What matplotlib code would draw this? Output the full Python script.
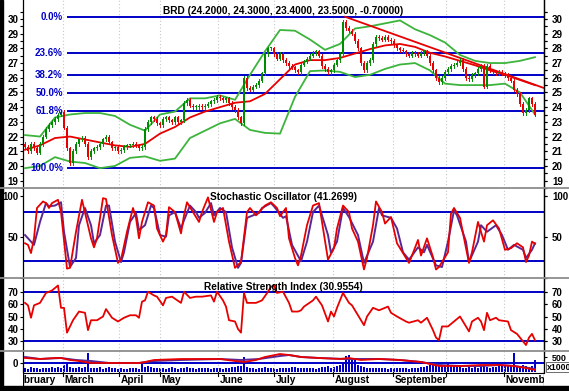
import matplotlib
matplotlib.use('Agg')
import matplotlib.pyplot as plt
import numpy as np
from matplotlib.lines import Line2D
from matplotlib.patches import Rectangle

plt.rcParams['font.family'] = ['Liberation Sans', 'DejaVu Sans']
plt.rcParams['font.weight'] = 'bold'

# ---------------- data (trading-day index 0..170) ----------------
title = "BRD (24.2000, 24.3000, 23.4000, 23.5000, -0.70000)"
first_open = 21.5
close = [21.3, 21.0, 21.5, 21.2, 20.9, 21.5, 22.0, 22.5, 22.8, 23.0,
         23.2, 23.5, 23.7, 22.6, 21.2, 20.2, 21.0, 21.5, 21.8, 21.9,
         21.5, 20.6, 21.0, 21.2, 21.3, 21.5, 21.8, 22.0, 21.6, 21.2,
         21.3, 21.0, 21.1, 21.3, 21.4, 21.4, 21.5, 21.4, 21.2, 21.3,
         22.5, 23.0, 23.3, 23.2, 22.9, 22.8, 23.2, 23.3, 23.1, 23.0,
         23.3, 23.0, 23.1, 24.3, 24.5, 24.1, 24.0, 24.0, 24.1, 24.0,
         24.1, 24.2, 24.4, 24.5, 24.7, 24.6, 24.5, 24.6, 24.3, 24.0,
         23.8, 23.3, 22.9, 26.0, 25.3, 25.2, 25.4, 25.5, 25.8, 26.3,
         27.6, 28.0, 28.0, 27.6, 27.3, 27.6, 27.2, 27.0, 26.8, 26.7,
         26.5, 26.4, 26.9, 27.1, 27.3, 27.5, 27.7, 27.8, 27.5, 26.8,
         26.6, 26.4, 26.5, 26.9, 27.2, 27.6, 29.8, 29.4, 29.2, 29.0,
         28.5, 28.0, 27.0, 26.5, 27.0, 27.2, 28.3, 28.8, 28.7, 28.6,
         28.8, 28.6, 28.5, 28.2, 28.0, 27.9, 27.8, 27.6, 27.5, 27.7,
         27.6, 27.5, 27.7, 27.8, 27.5, 27.0, 26.5, 26.0, 25.7, 26.0,
         26.4, 26.6, 26.8, 26.9, 27.0, 27.2, 26.6, 26.0, 25.9, 26.2,
         26.3, 26.6, 26.8, 25.4, 26.8, 26.5, 26.4, 26.3, 26.4, 26.3,
         26.2, 26.0, 25.8, 25.2, 24.9, 24.2, 23.6, 23.8, 24.6, 24.2,
         23.5]

# Bollinger bands / moving average, read every 5 days
band_days = [0, 5, 10, 15, 20, 25, 30, 35, 40, 45, 50, 55, 60, 65, 70, 75, 80, 85,
             90, 95, 100, 105, 110, 115, 120, 125, 130, 135, 140, 145, 150, 155,
             160, 165, 170]
band_upper = [22.1, 22.0, 23.3, 23.5, 23.6, 23.6, 23.4, 22.8, 22.4, 23.5, 23.7, 24.6,
              24.6, 24.8, 24.5, 26.2, 27.8, 29.25, 29.2, 28.6, 27.9, 28.3, 29.35,
              29.5, 29.7, 29.9, 29.3, 28.9, 28.4, 27.55, 27.15, 27.0, 27.0, 27.15, 27.4]
band_lower = [19.85, 20.0, 20.6, 20.3, 20.2, 19.85, 20.0, 20.55, 20.65, 20.35, 20.5,
              21.9, 22.4, 22.9, 23.2, 22.45, 22.25, 22.2, 24.7, 26.45, 26.5, 26.4,
              26.05, 26.2, 26.6, 26.9, 27.0, 26.5, 25.6, 25.5, 25.5, 25.5, 25.6, 25.0, 23.5]
band_mid = [21.1, 21.4, 21.9, 22.0, 21.8, 21.6, 21.4, 21.3, 21.5, 22.2, 22.65, 23.3,
            23.7, 24.0, 24.3, 24.4, 24.9, 25.9, 26.9, 27.2, 27.2, 27.35, 27.65, 27.95,
            28.2, 28.3, 28.1, 27.7, 27.45, 27.15, 26.85, 26.5, 26.2, 25.85, 25.5]

trend_days = [106.7, 173.0]
trend_vals = [30.15, 25.3]

fib_high = 30.12
fib_low = 19.84
fib_start_day = 14.3
fib_ratios = [0.0, 0.236, 0.382, 0.5, 0.618, 1.0]
fib_labels = ["0.0%", "23.6%", "38.2%", "50.0%", "61.8%", "100.0%"]

stoch_title = "Stochastic Oscillator (41.2699)"
k_days = [0, 1, 2, 3, 4, 6, 7, 8, 9, 11, 12, 14, 15, 17, 19, 22, 23, 24, 26, 27, 29, 31,
          32, 34, 36, 37, 38, 39, 41, 43, 44, 46, 47, 48, 50, 52, 53, 54, 56, 58, 59, 61,
          63, 64, 66, 68, 70, 72, 74, 75, 77, 78, 80, 82, 84, 85, 87, 88, 90, 91, 92, 94,
          96, 98, 99, 101, 103, 104, 106, 108, 109, 111, 113, 114, 116, 117, 119, 120,
          122, 124, 126, 128, 129, 131, 132, 134, 136, 137, 138, 141, 142, 143, 145,
          147, 148, 149, 151, 153, 154, 156, 158, 160, 162, 164, 166, 167, 168, 169, 170]
k_vals = [42, 40, 30, 48, 85, 93, 91, 85, 91, 95, 80, 11, 12, 56, 95, 48, 37, 48, 97, 96,
          52, 18, 22, 56, 85, 73, 48, 68, 92, 88, 60, 44, 52, 86, 80, 54, 76, 92, 80, 68,
          80, 98, 68, 80, 85, 44, 12, 19, 80, 85, 76, 80, 88, 92, 85, 75, 85, 48, 24, 15,
          27, 64, 88, 91, 68, 22, 36, 60, 88, 80, 60, 44, 10, 24, 64, 93, 80, 66, 74, 42,
          30, 18, 27, 46, 27, 48, 25, 10, 13, 31, 78, 85, 73, 36, 18, 31, 68, 44, 64, 70,
          60, 34, 36, 42, 37, 19, 27, 44, 41.3]
d_days = [0, 2, 3, 5, 7, 8, 10, 12, 13, 15, 17, 18, 20, 22, 23, 25, 27, 28, 30, 32, 33,
          35, 37, 38, 40, 42, 43, 45, 47, 48, 50, 52, 53, 55, 57, 58, 60, 62, 63, 65, 67,
          69, 71, 72, 74, 76, 78, 79, 82, 83, 86, 87, 89, 92, 94, 96, 98, 101, 102, 104,
          106, 108, 111, 113, 116, 118, 119, 122, 124, 126, 128, 131, 133, 134, 137, 139,
          141, 143, 144, 147, 148, 151, 152, 154, 157, 159, 161, 163, 166, 167, 169, 170]
d_vals = [52, 44, 40, 68, 91, 87, 88, 92, 56, 13, 24, 64, 85, 64, 42, 52, 88, 88, 44, 19,
          31, 68, 79, 58, 64, 88, 85, 52, 50, 76, 80, 60, 70, 88, 80, 73, 79, 91, 76, 85,
          80, 37, 12, 18, 73, 76, 79, 85, 91, 87, 73, 75, 40, 20, 44, 80, 88, 52, 30, 44,
          85, 74, 52, 18, 44, 85, 76, 73, 60, 31, 22, 37, 31, 40, 15, 13, 44, 82, 76, 44,
          19, 44, 64, 56, 64, 52, 34, 40, 34, 24, 34, 42]

rsi_title = "Relative Strength Index (30.9554)"
rsi_days = [0, 1, 2, 3, 5, 7, 9, 11, 12, 13, 14, 16, 18, 20, 21, 22, 24, 26, 27, 29, 31,
            33, 35, 37, 38, 39, 40, 41, 43, 44, 46, 47, 49, 52, 53, 55, 57, 59, 62, 63,
            64, 66, 67, 68, 70, 71, 72, 73, 74, 77, 79, 81, 82, 83, 84, 86, 88, 89, 91,
            92, 93, 96, 97, 99, 101, 102, 103, 104, 105, 106, 108, 109, 111, 113, 114,
            116, 118, 121, 122, 124, 127, 128, 131, 132, 134, 136, 137, 138, 139, 141,
            143, 145, 147, 148, 149, 151, 152, 153, 154, 155, 157, 158, 161, 162, 164,
            165, 167, 168, 169, 170]
rsi_vals = [61, 59, 49, 59, 61, 69, 71, 75, 57, 57, 37, 47, 54, 53, 39, 47, 47, 50, 56,
            49, 46, 49, 51, 51, 49, 62, 63, 70, 67, 66, 59, 65, 66, 61, 70, 65, 66, 66,
            67, 62, 70, 63, 58, 47, 46, 40, 37, 69, 61, 61, 63, 70, 74, 75, 69, 70, 61,
            54, 54, 55, 58, 63, 66, 59, 46, 54, 50, 57, 63, 69, 61, 59, 51, 43, 50, 57,
            55, 58, 53, 50, 46, 45, 47, 45, 49, 39, 33, 31, 42, 42, 46, 50, 42, 38, 46,
            49, 46, 39, 53, 47, 49, 47, 46, 39, 36, 33, 27, 33, 36, 30.96]

volume = [150, 120, 180, 140, 160, 130, 170, 150, 140, 190, 160, 200, 170, 260, 350,
          180, 150, 140, 200, 160, 180, 730, 170, 150, 140, 180, 130, 150, 200, 160,
          140, 120, 150, 130, 110, 140, 160, 150, 130, 300, 190, 220, 180, 150, 170,
          140, 160, 130, 150, 200, 140, 130, 150, 170, 190, 160, 140, 130, 150, 140,
          160, 150, 130, 170, 140, 150, 130, 160, 140, 180, 200, 220, 250, 580, 180,
          160, 140, 130, 150, 170, 190, 160, 140, 150, 130, 160, 140, 150, 170, 200,
          190, 160, 150, 140, 160, 150, 140, 130, 160, 180, 200, 220, 170, 190, 220,
          260, 400, 600, 650, 550, 500, 260, 220, 180, 160, 150, 170, 150, 140, 160,
          150, 130, 140, 150, 170, 160, 150, 140, 130, 150, 160, 170, 180, 200, 220,
          260, 280, 300, 250, 230, 260, 385, 220, 200, 180, 190, 170, 160, 180, 170,
          190, 160, 200, 220, 180, 170, 200, 190, 220, 250, 240, 260, 280, 730, 220,
          240, 260, 230, 200, 250, 460]

osc_r_days = [0, 5, 10, 12, 15, 18, 22, 25, 32, 38, 40, 43, 52, 58, 65, 70, 73, 77, 80,
              85, 88, 92, 98, 105, 108, 112, 118, 125, 132, 138, 145, 152, 158, 163, 167, 170]
osc_r_vals = [5, 4, 5, 5, 3, 2, 0, 0, 0, 0, 1, 3, 4, 4, 4, 2, 1, 3, 6, 9, 8, 6, 5, 4, 5,
              3, 4, 3, 1, -3, -3, -2, -2, -3, -5, -7]
osc_p_days = [0, 5, 12, 17, 22, 28, 38, 43, 52, 65, 72, 78, 85, 88, 92, 98, 107, 112,
              118, 125, 132, 138, 145, 152, 158, 163, 168, 170]
osc_p_vals = [6, 4, 5, 3, 2, 0, 0, 2, 3, 4, 3, 4, 7, 8, 6, 5, 4, 4, 4, 3, 1, -2, -3, -3,
              -2, -3, -5, -6]

month_names = ["February", "March", "April", "May", "June", "July", "August",
               "September", "October", "November"]
month_starts = [-4.7, 12.7, 31.3, 45.0, 64.3, 83.0, 102.7, 122.7, 140.3, 159.7]
month_shown = [True, True, True, True, True, True, True, True, False, True]

# ---------------- styling ----------------
W, H = 569, 391
BLUE = '#0000c8'
RED = '#e60000'
GREEN_C = '#008c00'
GREEN_B = '#3cb43c'
PURPLE = '#5a2896'
GRAY = '#8c8c8c'
GRID = '#c8c8c8'
XL = (-0.667, 173.0)

fig = plt.figure(figsize=(W / 100, H / 100), dpi=100)
fig.patch.set_facecolor('white')


def rect(top, bottom):
    return [23 / W, 1 - bottom / H, 521 / W, (bottom - top) / H]


def style_axis(ax, ylim, ticks, labels, minor=None, pad_r=3.2):
    ax.set_xlim(*XL)
    ax.set_ylim(*ylim)
    ax.set_facecolor('none')
    for s in ['top', 'bottom']:
        ax.spines[s].set_visible(False)
    for s in ['left', 'right']:
        ax.spines[s].set_linewidth(0.9)
        ax.spines[s].set_color('black')
    ax.set_xticks([])
    ax.set_yticks(ticks)
    ax.set_yticklabels(labels)
    if minor is not None:
        ax.set_yticks(minor, minor=True)
    ax.tick_params(axis='y', which='both', left=True, right=True, labelleft=True,
                   labelright=False, direction='out', length=2.5, width=0.8,
                   labelsize=7, pad=0.8)
    sec = ax.secondary_yaxis('right')
    sec.set_yticks(ticks)
    sec.set_yticklabels(labels)
    if minor is not None:
        sec.set_yticks(minor, minor=True)
    sec.tick_params(axis='y', which='both', direction='out', length=2.5, width=0.8,
                    labelsize=7, pad=pad_r)
    sec.spines['right'].set_linewidth(0.9)
    for t in ax.get_yticklabels() + sec.get_yticklabels():
        t.set_fontweight('bold')
    for m in month_starts[1:]:
        ax.axvline(m, color=GRID, lw=0.8, ls=(0, (1, 2)), zorder=0)
    return sec


days = np.arange(len(close))
opens = [first_open] + close[:-1]

# ---------------- price panel ----------------
axp = fig.add_axes(rect(0, 188))
style_axis(axp, (18.5, 31.29), list(range(19, 31)), [str(v) for v in range(19, 31)],
           minor=list(np.arange(18.5, 31.0, 1.0)))

for r, lab in zip(fib_ratios, fib_labels):
    lv = fib_high - r * (fib_high - fib_low)
    axp.plot([fib_start_day, XL[1]], [lv, lv], color=BLUE, lw=1.4, zorder=2)
    axp.text(fib_start_day - 1.7, lv, lab, color=BLUE, fontsize=7, fontweight='bold',
             ha='right', va='center', zorder=5)

axp.plot(band_days, band_upper, color=GREEN_B, lw=1.3, zorder=3)
axp.plot(band_days, band_lower, color=GREEN_B, lw=1.3, zorder=3)
axp.plot(band_days, band_mid, color=RED, lw=1.3, zorder=3)
axp.plot(trend_days, trend_vals, color=RED, lw=1.3, zorder=3)

for d, o, c in zip(days, opens, close):
    col = GREEN_C if c >= o else RED
    lo, hi = min(o, c), max(o, c)
    axp.bar(d, max(hi - lo, 0.06), bottom=lo, width=0.75, color=col, linewidth=0, zorder=4)
    axp.plot([d, d], [lo - 0.12, hi + 0.12], color=col, lw=0.7, zorder=4)

axp.text(0.5, 1 - 11 / 188, title, transform=axp.transAxes, ha='center', va='center',
         fontsize=7.3, fontweight='bold', color='black', zorder=6)

# ---------------- stochastic panel ----------------
axs = fig.add_axes(rect(188, 278))
style_axis(axs, (-0.4, 109.4), [50, 100], ['50', '100'], minor=[0])
axs.axhline(80, color=BLUE, lw=1.4, zorder=2)
axs.axhline(20, color=BLUE, lw=1.4, zorder=2)
axs.plot(d_days, d_vals, color=PURPLE, lw=1.4, zorder=3)
axs.plot(k_days, k_vals, color=RED, lw=1.3, zorder=4)
axs.text(0.5, 1 - 9 / 90, stoch_title, transform=axs.transAxes, ha='center',
         va='center', fontsize=7.3, fontweight='bold', zorder=6)

# ---------------- RSI panel ----------------
axr = fig.add_axes(rect(278, 351))
style_axis(axr, (22.2, 81.05), [30, 40, 50, 60, 70], ['30', '40', '50', '60', '70'])
axr.axhline(70, color=BLUE, lw=1.4, zorder=2)
axr.axhline(30, color=BLUE, lw=1.4, zorder=2)
axr.plot(rsi_days, rsi_vals, color=RED, lw=1.3, zorder=3)
axr.text(0.5, 1 - 9 / 73, rsi_title, transform=axr.transAxes, ha='center', va='center',
         fontsize=7.3, fontweight='bold', zorder=6)

# ---------------- volume panel ----------------
axo = fig.add_axes(rect(351, 372))
axo.set_xlim(*XL)
axo.set_ylim(-9, 12)
axo.set_facecolor('none')
for s in ['top', 'bottom']:
    axo.spines[s].set_visible(False)
axo.spines['left'].set_linewidth(0.9)
axo.spines['right'].set_linewidth(0.9)
axo.set_xticks([])
axo.set_yticks([0])
axo.set_yticklabels(['0'])
axo.tick_params(axis='y', direction='out', length=2.5, width=0.8, labelsize=7, pad=0.8)
for m in month_starts[1:]:
    axo.axvline(m, color=GRID, lw=0.8, ls=(0, (1, 2)), zorder=0)

axv = axo.twinx()
axv.set_xlim(*XL)
axv.set_ylim(0, 808)
for s in ['top', 'bottom', 'left']:
    axv.spines[s].set_visible(False)
axv.bar(days, volume, width=0.35, color=BLUE, linewidth=0, zorder=1)
axv.set_yticks([560])
axv.set_yticklabels(['500'])
axv.tick_params(axis='y', direction='out', length=2.5, width=0.8, labelsize=6.5, pad=3.2)

axo.set_zorder(axv.get_zorder() + 1)
axo.axhline(0, color=BLUE, lw=1.4, zorder=2)
axo.plot(osc_p_days, osc_p_vals, color=PURPLE, lw=1.4, zorder=4)
axo.plot(osc_r_days, osc_r_vals, color=RED, lw=1.3, zorder=5)
for t in axv.get_yticklabels() + axo.get_yticklabels():
    t.set_fontweight('bold')
fig.text(547 / W, 1 - 367 / H, 'x1000', fontsize=6.3, fontweight='bold', ha='left',
         va='center', bbox=dict(boxstyle='square,pad=0.08', fc='white', ec='#555555', lw=0.6),
         zorder=10)

# ---------------- date axis ----------------
axd = fig.add_axes(rect(372, 386))
axd.set_xlim(*XL)
axd.set_ylim(0, 1)
axd.axis('off')
for name, m, show in zip(month_names, month_starts, month_shown):
    axd.plot([m, m], [0.7, 1.0], color='black', lw=0.8, clip_on=True)
    if show:
        axd.text(m + 0.5, 0.42, name, fontsize=7.3, fontweight='bold', ha='left',
                 va='center', clip_on=True)
axd.plot([XL[0], XL[0]], [0, 1], color='black', lw=0.9)
axd.plot([XL[1], XL[1]], [0, 1], color='black', lw=0.9)

# ---------------- separators and frame ----------------
for y in [188, 278, 351]:
    fig.add_artist(Line2D([0, 1], [1 - y / H, 1 - y / H], color=GRAY, lw=1.3,
                          transform=fig.transFigure))
fig.add_artist(Line2D([23 / W, 544 / W], [1 - 372.5 / H, 1 - 372.5 / H], color='black',
                      lw=0.8, transform=fig.transFigure))
fig.add_artist(Rectangle((0, 0), 1, 5 / H, transform=fig.transFigure, color='black'))
fig.add_artist(Rectangle((0, 0), 2.5 / W, 1, transform=fig.transFigure, color='black'))

fig.savefig('out.png', dpi=100)
